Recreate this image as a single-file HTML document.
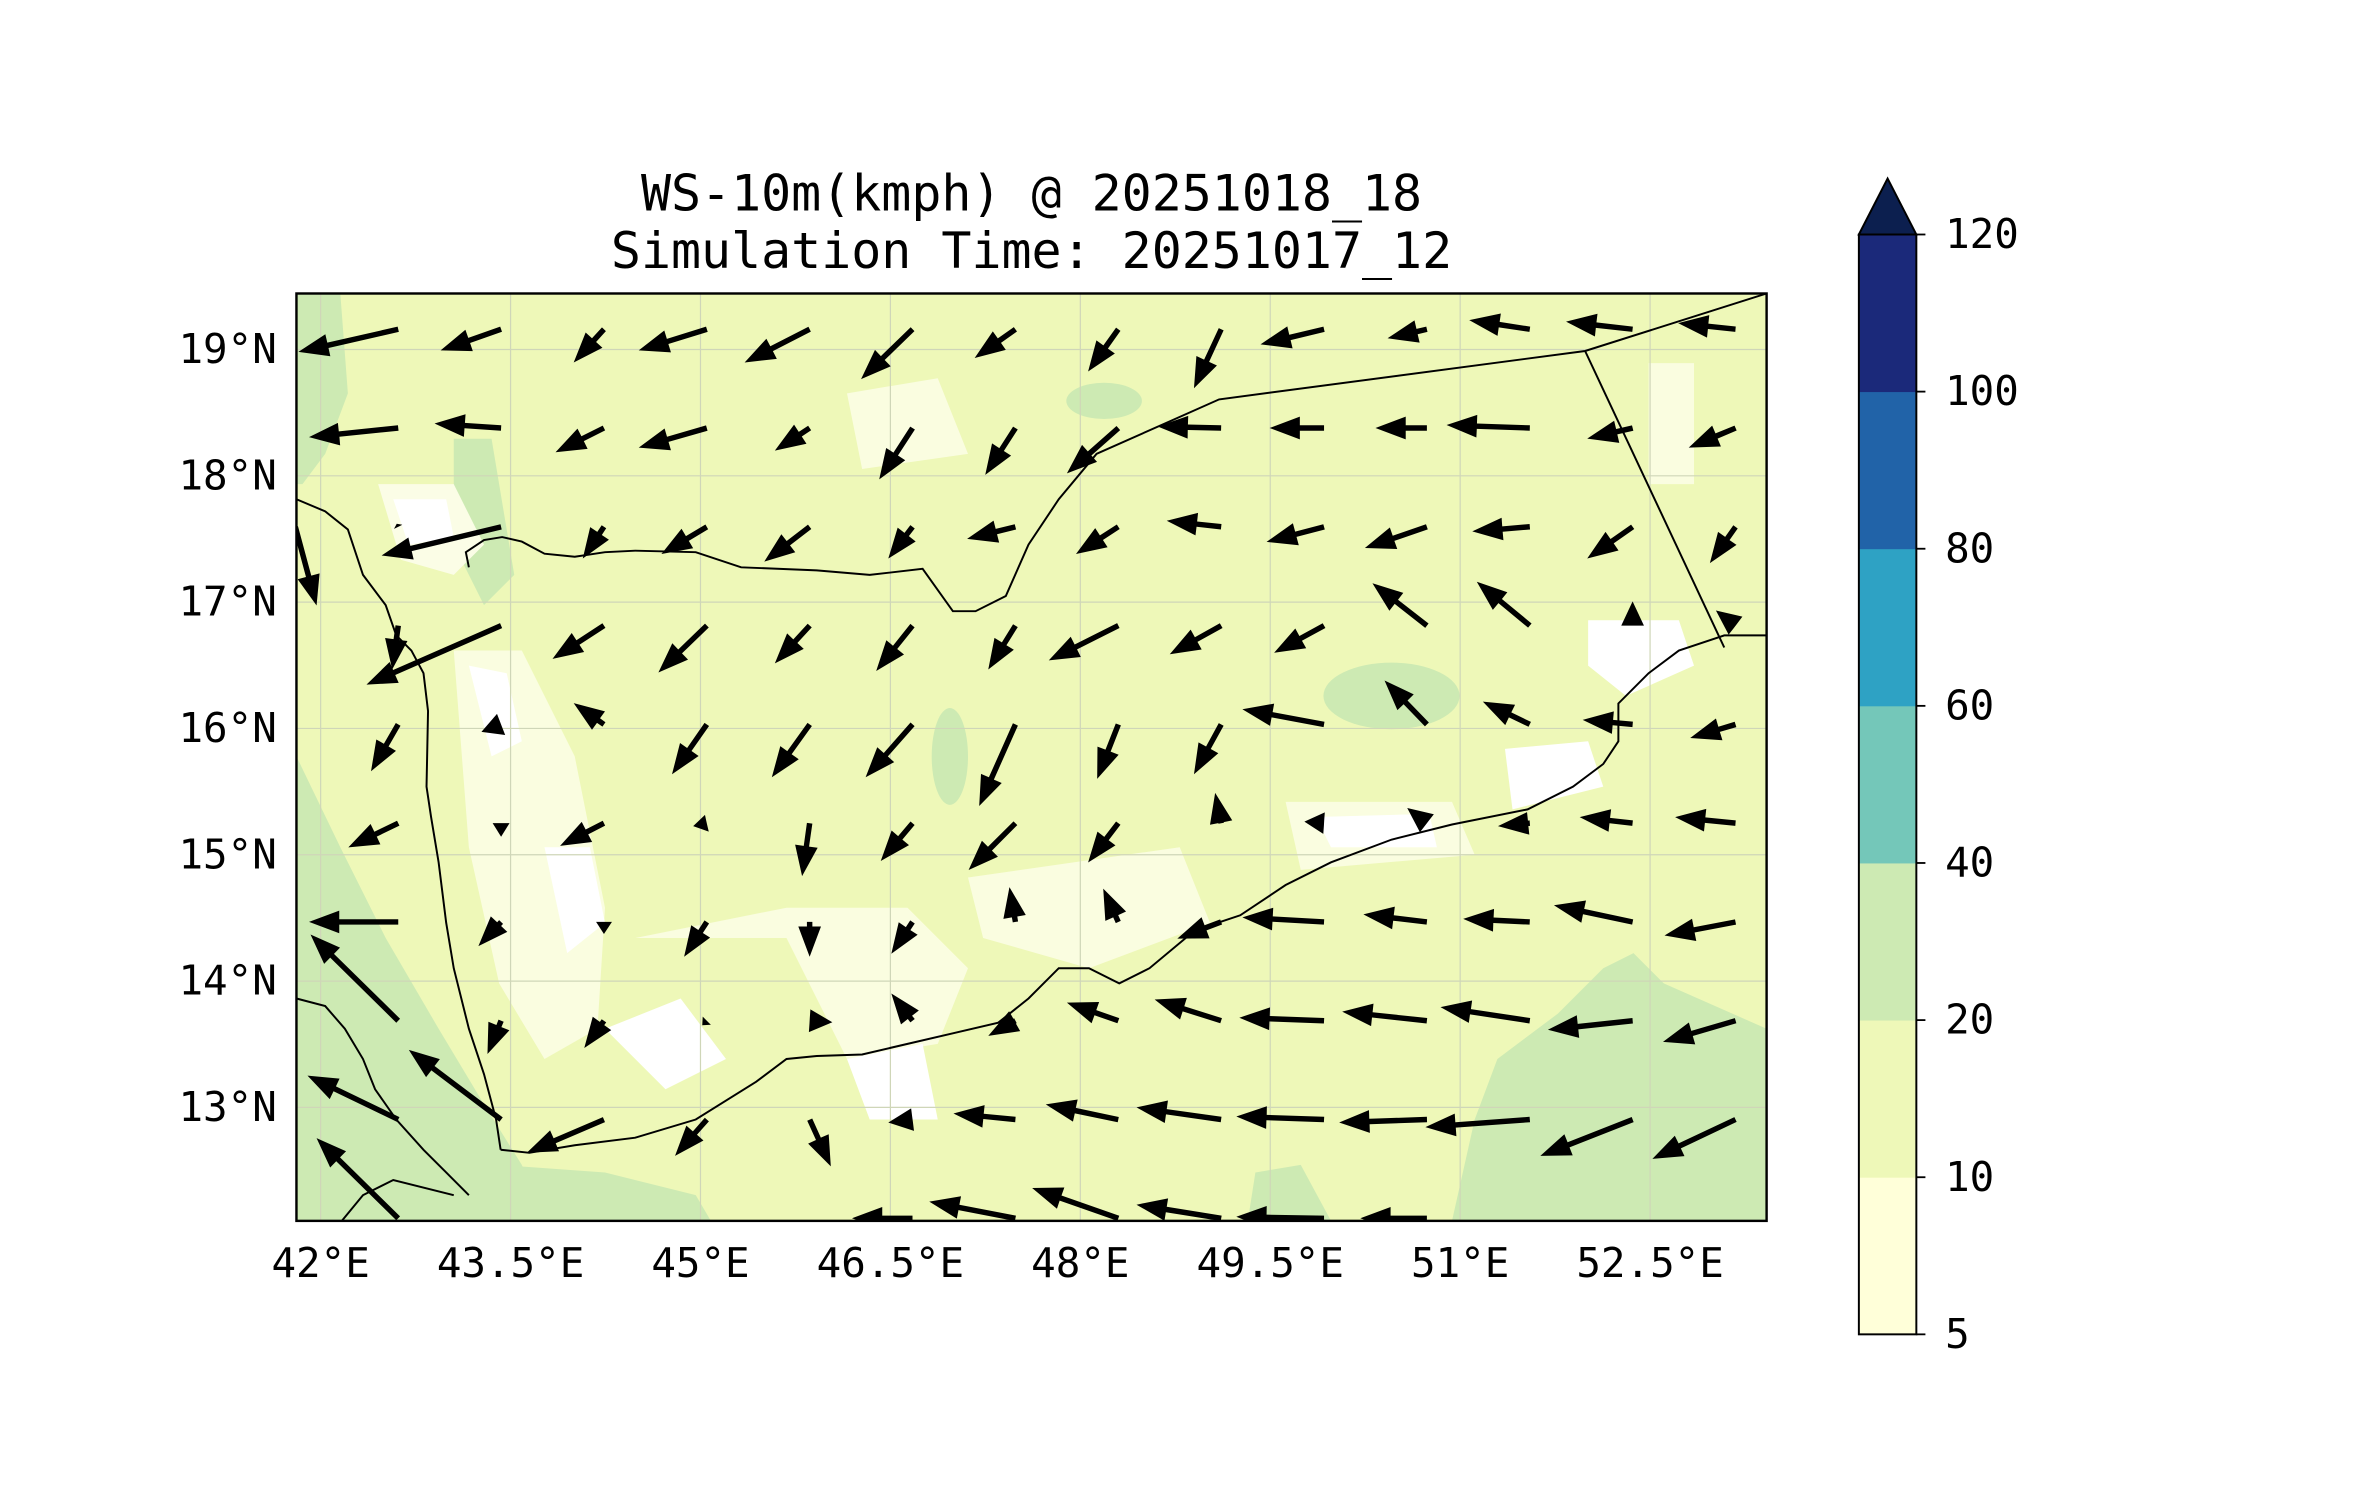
<!DOCTYPE html>
<html><head><meta charset="utf-8"><style>
html,body{margin:0;padding:0;background:#fff;}
svg{display:block;}
text{font-family:"DejaVu Sans Mono","Liberation Mono",monospace;fill:#000;}
</style></head><body>
<svg id="chart" width="2371" height="1500" viewBox="0 0 1567.6 991.5" preserveAspectRatio="none" xmlns="http://www.w3.org/2000/svg">
<defs><clipPath id="axclip"><rect x="196" y="194" width="972" height="613"/></clipPath></defs>
<text x="682" y="139" font-size="33" text-anchor="middle">WS-10m(kmph) @ 20251018_18</text>
<text x="682" y="177" font-size="33" text-anchor="middle">Simulation Time: 20251017_12</text>
<g id="map" clip-path="url(#axclip)">
<rect x="196" y="194" width="972" height="613" fill="#eef8b8"/>
<g>
<path fill="#cdeab3" d="M196,500 L225,560 L255,620 L290,680 L320,730 L345,770 L360,807 L196,807 Z"/>
<path fill="#cdeab3" d="M330,770 L400,775 L460,790 L470,807 L330,807 Z"/>
<path fill="#cdeab3" d="M990,700 L1030,670 L1060,640 L1080,630 L1100,650 L1168,680 L1168,807 L960,807 L975,740 Z"/>
<path fill="#cdeab3" d="M830,775 L860,770 L880,807 L825,807 Z"/>
<ellipse fill="#cdeab3" cx="920" cy="460" rx="45" ry="22"/>
<ellipse fill="#cdeab3" cx="628" cy="500" rx="12" ry="32"/>
<ellipse fill="#cdeab3" cx="730" cy="265" rx="25" ry="12"/>
<path fill="#cdeab3" d="M196,194 L225,194 L230,260 L215,300 L200,320 L196,320 Z"/>
<path fill="#cdeab3" d="M300,290 L325,290 L340,380 L320,400 L300,360 Z"/>
<path fill="#fbfde6" d="M250,320 L300,320 L320,360 L300,380 L265,370 Z"/>
<path fill="#ffffff" d="M260,330 L295,330 L300,355 L270,360 Z"/>
<path fill="#fafde0" d="M300,430 L345,430 L380,500 L400,600 L395,680 L360,700 L330,650 L310,560 Z"/>
<path fill="#ffffff" d="M310,440 L335,445 L345,490 L325,500 Z"/>
<path fill="#ffffff" d="M360,560 L390,560 L400,610 L375,630 Z"/>
<path fill="#ffffff" d="M400,680 L450,660 L480,700 L440,720 Z"/>
<path fill="#fafde0" d="M420,620 L520,620 L560,700 L620,690 L640,640 L600,600 L520,600 Z"/>
<path fill="#ffffff" d="M560,700 L610,690 L620,740 L575,740 Z"/>
<path fill="#ffffff" d="M1050,410 L1110,410 L1120,440 L1075,460 L1050,440 Z"/>
<path fill="#ffffff" d="M995,495 L1050,490 L1060,520 L1000,535 Z"/>
<path fill="#fafde0" d="M850,530 L960,530 L975,565 L860,575 Z"/>
<path fill="#ffffff" d="M870,540 L945,538 L950,560 L880,560 Z"/>
<path fill="#fafde0" d="M640,580 L780,560 L800,610 L720,640 L650,620 Z"/>
<path fill="#fafde0" d="M560,260 L620,250 L640,300 L570,310 Z"/>
<path fill="#fafde0" d="M1090,240 L1120,240 L1120,320 L1090,320 Z"/>
</g>
<g stroke="#cfd6b8" stroke-width="0.8" id="grid"></g>
<g fill="none" stroke="#000" stroke-width="1.3">
<polyline points="331,760 350,762 380,757 420,752 460,740 500,715 520,700 540,698 570,697 600,690 630,683 660,676 680,660 700,640 720,640 740,650 760,640 790,615 820,605 850,585 880,570 920,555 960,545 1010,535 1040,520 1060,505 1070,490 1070,465 1090,445 1110,430 1140,420 1168,420"/>
<polyline points="196,330 215,338 230,350 240,380 255,400 262,420 272,430 280,445 283,470 282,520 285,540 290,570 295,610 300,640 310,680 320,710 328,740 331,760"/>
<polyline points="310,375 308,365 320,357 332,355 345,358 360,366 380,368 400,365 420,364 460,365 490,375 540,377 575,380 610,376 630,404 645,404 665,394 680,360 700,330 725,300 770,280 806,264 1048,232 1168,194"/>
<polyline points="1048,232 1140,428"/>
<polyline points="196,660 215,665 228,680 240,700 248,720 262,740 280,760 295,775 310,790"/>
<polyline points="226,807 240,790 260,780 300,790"/>
</g>
<g id="arrows"></g>
</g>
<rect x="196" y="194" width="972" height="613" fill="none" stroke="#000" stroke-width="1.6"/>
<g id="xticks"></g>
<g id="yticks"></g>
<g id="cbar"></g>
</svg>
<script>
// ---- data ----
const lonTicks = [42, 43.5, 45, 46.5, 48, 49.5, 51, 52.5];
const lonTickLabels = ["42°E","43.5°E","45°E","46.5°E","48°E","49.5°E","51°E","52.5°E"];
const latTicks = [13, 14, 15, 16, 17, 18, 19];
const latTickLabels = ["13°N","14°N","15°N","16°N","17°N","18°N","19°N"];
const cbarLevels = [5, 10, 20, 40, 60, 80, 100, 120];
const cbarColors = ["#ffffd9","#eef8b8","#cdeab3","#74c7b9","#2ea2c4","#2163a8","#1b297a"];
const cbarExtendColor = "#0c1f4f";
const gridLon0 = 41.80, gridLonStep = 0.8125;
const gridLat0 = 19.16, gridLatStep = 0.782;
const U = [
 [0,-66,-40,-20,-45,-43,-34,-27,-20,-18,-42,-26,-40,-44,-38],
 [0,-59,-44,-32,-45,-23,-22,-20,-34,-42,-36,-34,-55,-30,-31],
 [14,-1,-79,-14,-30,-30,-16,-32,-28,-36,-38,-41,-38,-30,-17],
 [0,-4,-89,-34,-32,-23,-24,-18,-46,-34,-33,-36,-35,0,-13],
 [0,-18,-13,-20,-23,-25,-31,-24,-14,-18,-54,-28,-31,-33,-30],
 [0,-33,0,-29,-9,-5,-21,-31,-20,-4,-13,-13,-21,-35,-40],
 [0,-59,-15,0,-15,0,-14,-4,-10,-29,-54,-42,-44,-52,-47],
 [0,-58,-9,-13,-3,15,-14,-18,-34,-44,-56,-56,-59,-56,-48],
 [0,-60,-61,-51,-21,14,-16,-41,-48,-56,-58,-58,-69,-61,-55],
 [0,-54,0,0,0,0,-40,-57,-57,-56,-58,-44,0,0,0]
];
const V = [
 [0,-15,-14,-22,-14,-22,-33,-19,-28,-39,-10,-6,6,5,4],
 [0,-6,3,-16,-13,-15,-34,-31,-30,1,0,0,2,-7,-13],
 [-52,2,-19,-21,-18,-23,-21,-8,-18,4,-10,-14,-3,-21,-24],
 [0,-29,-39,-22,-31,-25,-30,-29,-23,-19,-18,28,29,16,10],
 [0,-31,-5,14,-33,-35,-35,-54,-36,-33,10,29,15,3,-9],
 [0,-16,-9,-15,-2,-35,-25,-31,-26,20,1,10,-2,4,4],
 [0,0,-16,-8,-23,-23,-21,23,22,-11,3,5,2,11,-9],
 [0,57,-22,-18,-3,-1,18,-10,12,14,2,6,9,-6,-14],
 [0,29,46,-22,-24,-31,-2,4,10,8,2,-2,-5,-24,-26],
 [0,53,0,0,0,0,0,11,20,9,1,0,0,0,0]
];
// ---- axis functions ----
const NS = "http://www.w3.org/2000/svg";
function xOf(lon){ return 212 + (lon - 42) * 83.71; }
function yOf(lat){ return 231 + (19 - lat) * 83.5; }
function mk(tag, attrs, parent){ const e = document.createElementNS(NS, tag); for (const k in attrs) e.setAttribute(k, attrs[k]); parent.appendChild(e); return e; }

const grid = document.getElementById('grid');
lonTicks.forEach(function(l){
  const ln = mk('line', {x1:xOf(l), x2:xOf(l), y1:194, y2:807}, grid);
  
  
});
latTicks.forEach(function(l){
  const ln = mk('line', {x1:196, x2:1168, y1:yOf(l), y2:yOf(l)}, grid);
  
  
});

const xt = document.getElementById('xticks');
lonTicks.forEach(function(l, i){
  const t = mk('text', {x:xOf(l), y:844, 'font-size':27, 'text-anchor':'middle'}, xt);
  t.textContent = lonTickLabels[i];
  
  
});
const yt = document.getElementById('yticks');
latTicks.forEach(function(l, i){
  const t = mk('text', {x:183, y:yOf(l) + 9, 'font-size':27, 'text-anchor':'end'}, yt);
  t.textContent = latTickLabels[i];
  
  
});

// arrows
const ag = document.getElementById('arrows');
for (let r = 0; r < U.length; r++) {
  for (let c = 0; c < U[r].length; c++) {
    const u = U[r][c], v = V[r][c];
    const L = Math.hypot(u, v);
    if (L < 0.5) continue;
    const tx = xOf(gridLon0 + c * gridLonStep), ty = yOf(gridLat0 - r * gridLatStep);
    const ux = u / L, uy = -v / L, px = -uy, py = ux;
    const hl = Math.min(20, L), hw = 7.5 * Math.min(1, L / 20 + 0.3), sw = 1.8;
    const bx = tx + ux * (L - hl), by = ty + uy * (L - hl);
    const hx = tx + ux * L, hy = ty + uy * L;
    const pts = [
      [tx + px*sw, ty + py*sw], [bx + px*sw, by + py*sw], [bx + px*hw, by + py*hw],
      [hx, hy], [bx - px*hw, by - py*hw], [bx - px*sw, by - py*sw], [tx - px*sw, ty - py*sw]
    ].map(function(p){ return p[0].toFixed(1) + ',' + p[1].toFixed(1); }).join(' ');
    const a = mk('polygon', {points: pts, fill: '#000'}, ag);
    
    
  }
}

// colorbar
const cb = document.getElementById('cbar');
const cbX = 1229, cbW = 38, cbTop = 155, cbBot = 882;
const seg = (cbBot - cbTop) / (cbarLevels.length - 1);
function cbY(i){ return cbBot - i * seg; }
cbarColors.forEach(function(col, i){
  const r = mk('rect', {x:cbX, y:cbY(i+1), width:cbW, height:seg + 0.3, fill:col}, cb);
  
  
});
const tri = mk('polygon', {points: cbX + ',' + cbTop + ' ' + (cbX + cbW/2) + ',118 ' + (cbX + cbW) + ',' + cbTop, fill: cbarExtendColor, stroke:'#000', 'stroke-width':1.3}, cb);


const fr = mk('rect', {x:cbX, y:cbTop, width:cbW, height:cbBot - cbTop, fill:'none', stroke:'#000', 'stroke-width':1.3}, cb);


cbarLevels.forEach(function(lv, i){
  const tk = mk('line', {x1:cbX + cbW, x2:cbX + cbW + 6, y1:cbY(i), y2:cbY(i), stroke:'#000', 'stroke-width':1.2}, cb);
  
  
  const t = mk('text', {x:1286, y:cbY(i) + 9, 'font-size':27}, cb);
  t.textContent = String(lv);
  
  
});
</script>
</body></html>
